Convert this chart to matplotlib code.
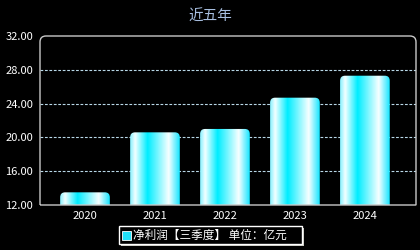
import numpy as np
import matplotlib
matplotlib.use("Agg")
import matplotlib.pyplot as plt
from matplotlib.path import Path
from matplotlib.patches import PathPatch, Rectangle
from matplotlib.transforms import IdentityTransform

plt.rcParams['font.family'] = ['Noto Sans CJK SC', 'DejaVu Sans']

years = ["2020", "2021", "2022", "2023", "2024"]
profit = [13.5, 20.6, 21.0, 24.7, 27.3]
yticks = [12, 16, 20, 24, 28, 32]
title = "近五年"
legend_label = "净利润【三季度】 单位：亿元"

fig = plt.figure(figsize=(4.2, 2.5), dpi=100, facecolor="black")
ax = fig.add_axes([40 / 420, 45 / 250, 376 / 420, 169 / 250], facecolor="black")
ax.set_xlim(-0.643, 4.73)
ax.set_ylim(12, 32)
for s in ax.spines.values():
    s.set_visible(False)

ax.set_yticks(yticks)
ax.set_yticklabels([f"{v:.2f}" for v in yticks])
ax.set_xticks(range(len(years)))
ax.set_xticklabels(years)
ax.tick_params(colors="white", labelsize=8, length=0, pad=4)
ax.tick_params(axis="y", pad=5)
for v in yticks[1:-1]:
    ax.axhline(v, color="#b8d8e8", lw=0.8, ls=(0, (2.5, 1.5)), zorder=1)

# horizontal gradient for the bars
stops = [0.0, 0.1, 0.35, 0.78, 1.0]
cols = np.array([[0.55, 0.95, 1.0],
                 [0.95, 1.0, 1.0],
                 [0.0, 0.93, 1.0],
                 [0.97, 1.0, 1.0],
                 [0.1, 0.9, 1.0]])
xs = np.linspace(0, 1, 64)
grad = np.stack([np.interp(xs, stops, cols[:, i]) for i in range(3)], axis=-1)[None, :, :]

w = 0.71
for i, v in enumerate(profit):
    x0 = i - w / 2
    im = ax.imshow(grad, extent=[x0, x0 + w, 12, v], aspect="auto",
                   interpolation="bilinear", zorder=2)
    # rounded top, square bottom
    r_x = 0.07
    r_y = 0.6
    verts = [(x0, 12), (x0, v - r_y), (x0, v), (x0 + r_x, v),
             (x0 + w - r_x, v), (x0 + w, v), (x0 + w, v - r_y),
             (x0 + w, 12), (x0, 12)]
    codes = [Path.MOVETO, Path.LINETO, Path.CURVE3, Path.CURVE3,
             Path.LINETO, Path.CURVE3, Path.CURVE3, Path.LINETO, Path.CLOSEPOLY]
    clip = PathPatch(Path(verts, codes), transform=ax.transData, facecolor="none", edgecolor="none")
    ax.add_patch(clip)
    im.set_clip_path(clip)

# frame with rounded top corners, in pixel coordinates
x0p, y0p, x1p, y1p = 40, 45, 416, 214
r = 6
fverts = [(x0p, y0p), (x0p, y1p - r), (x0p, y1p), (x0p + r, y1p),
          (x1p - r, y1p), (x1p, y1p), (x1p, y1p - r), (x1p, y0p), (x0p, y0p)]
fcodes = [Path.MOVETO, Path.LINETO, Path.CURVE3, Path.CURVE3,
          Path.LINETO, Path.CURVE3, Path.CURVE3, Path.LINETO, Path.LINETO]
fig.patches.append(PathPatch(Path(fverts, fcodes), transform=IdentityTransform(),
                             facecolor="none", edgecolor="#c8c8c8", lw=1.0, zorder=5))

fig.text(0.5, 0.935, title, color="#a8bfe0", fontsize=10.5, ha="center", va="center")

# legend box with shadow
lx, ly, lw_, lh = 119, 6, 183, 18
fig.patches.append(Rectangle((lx + 2, ly - 2), lw_, lh, transform=IdentityTransform(),
                             facecolor="#c8c8c0", edgecolor="none", zorder=3))
fig.patches.append(Rectangle((lx, ly), lw_, lh, transform=IdentityTransform(),
                             facecolor="black", edgecolor="white", lw=1.0, zorder=4))
fig.patches.append(Rectangle((lx + 3, ly + 4), 9, 9, transform=IdentityTransform(),
                             facecolor="#22e0f8", edgecolor="white", lw=0.6, zorder=5))
fig.text((lx + 14) / 420, (ly + lh / 2) / 250, legend_label, color="white",
         fontsize=8.4, ha="left", va="center", zorder=6)

fig.savefig("out.png", dpi=100, facecolor="black")
